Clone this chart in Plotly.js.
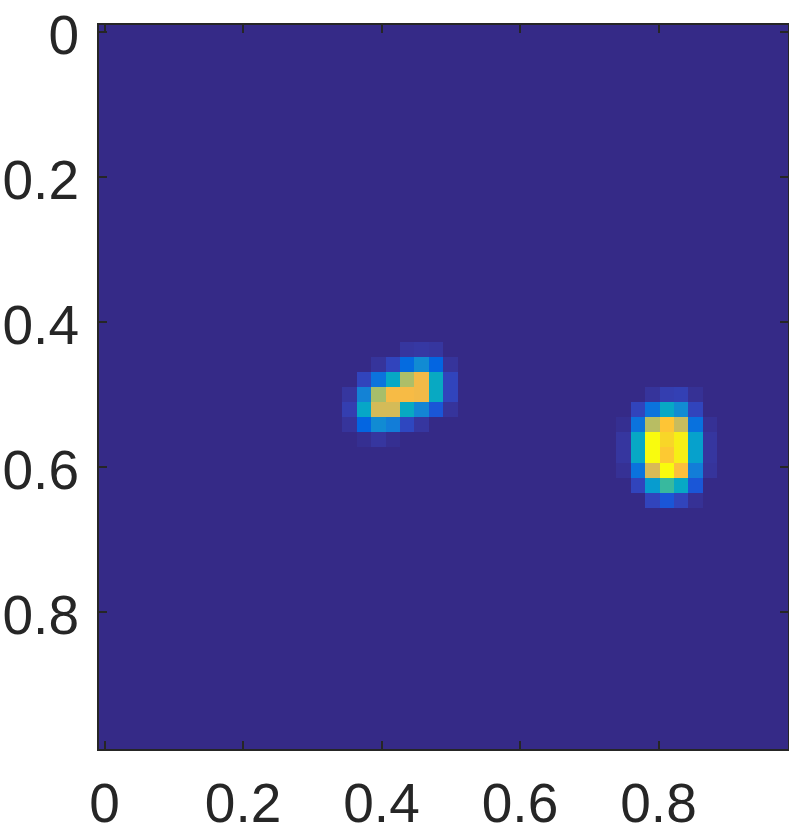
<!DOCTYPE html>
<html>
<head>
<meta charset="utf-8">
<script src="https://cdn.plot.ly/plotly-3.0.1.min.js"></script>
<style>html,body{margin:0;padding:0;background:#fff;overflow:hidden}#chart{width:789px;height:838px}</style>
</head>
<body>
<div id="chart"></div>
<script>
var columnCount = 48;
var rowCount = 48;
var tickValues = [0, 0.2, 0.4, 0.6, 0.8];
var tickLabels = ['0', '0.2', '0.4', '0.6', '0.8'];

// Left blob: first column 17, first row 21
var blobLeft = [
  [0, 0, 0, 0, 0.03, 0.035, 0.03, 0],
  [0, 0, 0.025, 0.065, 0.15, 0.27, 0.13, 0.025],
  [0, 0.065, 0.18, 0.38, 0.67, 0.8, 0.39, 0.065],
  [0.03, 0.24, 0.66, 0.81, 0.81, 0.8, 0.39, 0.065],
  [0.05, 0.37, 0.74, 0.74, 0.39, 0.25, 0.1, 0.025],
  [0.025, 0.13, 0.27, 0.22, 0.07, 0.03, 0, 0],
  [0, 0.012, 0.03, 0.012, 0, 0, 0, 0]
];
// Right blob: first column 36, first row 24
var blobRight = [
  [0, 0, 0.025, 0.05, 0.055, 0.018, 0],
  [0, 0.065, 0.18, 0.38, 0.27, 0.065, 0],
  [0.012, 0.18, 0.69, 0.85, 0.72, 0.17, 0.018],
  [0.03, 0.38, 1, 0.9, 0.96, 0.35, 0.03],
  [0.03, 0.38, 1, 0.86, 0.96, 0.35, 0.03],
  [0.018, 0.18, 0.75, 1, 0.83, 0.22, 0.025],
  [0, 0.065, 0.33, 0.5, 0.38, 0.1, 0],
  [0, 0, 0.065, 0.1, 0.065, 0.018, 0]
];

var z = [];
for (var r = 0; r < rowCount; r++) {
  var row = [];
  for (var c = 0; c < columnCount; c++) row.push(0);
  z.push(row);
}
function place(blob, col0, row0) {
  blob.forEach(function (vals, j) {
    vals.forEach(function (v, i) { z[row0 + j][col0 + i] = v; });
  });
}
place(blobLeft, 17, 21);
place(blobRight, 36, 24);

var parulaRows = [
  [.2081,.1663,.5292],[.2123,.2138,.6270],[.1959,.2645,.7279],[.1253,.3242,.8303],
  [.0117,.3875,.8820],[.0165,.4266,.8786],[.0498,.4586,.8641],[.0723,.4887,.8467],
  [.0793,.5200,.8312],[.0641,.5570,.8240],[.0343,.5966,.8199],[.0239,.6287,.8038],
  [.0228,.6535,.7768],[.0384,.6743,.7436],[.0843,.6928,.7062],[.1453,.7098,.6646],
  [.2178,.7250,.6193],[.3022,.7376,.5712],[.3953,.7459,.5244],[.4871,.7491,.4840],
  [.5709,.7485,.4494],[.6473,.7456,.4188],[.7184,.7411,.3905],[.7858,.7356,.3633],
  [.8507,.7299,.3360],[.9139,.7258,.3063],[.9739,.7314,.2666],[.9990,.7653,.2164],
  [.9880,.8066,.1794],[.9697,.8481,.1475],[.9589,.8949,.1132],[.9661,.9514,.0755],
  [.9763,.9831,.0538]
];
var parula = parulaRows.map(function (p, i) {
  return [i / (parulaRows.length - 1),
    'rgb(' + Math.round(p[0]*255) + ',' + Math.round(p[1]*255) + ',' + Math.round(p[2]*255) + ')'];
});

var axisStyle = {
  tickmode: 'array', tickvals: tickValues, ticktext: tickLabels,
  ticks: 'inside', ticklen: 8, tickwidth: 2, tickcolor: '#262626',
  showline: true, linecolor: '#262626', linewidth: 2, mirror: 'ticks',
  showgrid: false, zeroline: false,
  tickfont: {family: 'Liberation Sans, Arial, sans-serif', size: 55, color: '#262626'}
};

Plotly.newPlot('chart', [{
  type: 'heatmap', z: z,
  x0: 0, dx: 1 / columnCount, y0: 0, dy: 1 / rowCount,
  zmin: 0, zmax: 1, zsmooth: false, colorscale: parula, showscale: false, hoverinfo: 'skip'
}], {
  width: 789, height: 838,
  margin: {l: 99, r: 1, t: 25, b: 89, pad: 0},
  paper_bgcolor: '#fff', plot_bgcolor: '#352a87',
  xaxis: Object.assign({}, axisStyle, {range: [-0.008, 0.987], ticklabelstandoff: 5}),
  yaxis: Object.assign({}, axisStyle, {range: [0.9888, -0.009], ticklabelstandoff: 7, ticklabelshift: -3})
}, {displayModeBar: false, staticPlot: true});
</script>
</body>
</html>
